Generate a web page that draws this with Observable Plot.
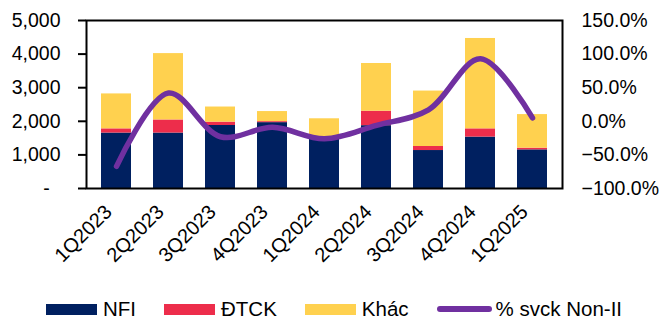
<!DOCTYPE html>
<html>
<head>
<meta charset="utf-8">
<script src="https://cdn.jsdelivr.net/npm/d3@7"></script>
<script src="https://cdn.jsdelivr.net/npm/@observablehq/plot@0.6"></script>
<style>
  html, body { margin: 0; padding: 0; background: #fff; }
  #wrap { position: relative; width: 659px; height: 320px; font-family: "Liberation Sans", Arial, sans-serif; }
  #chart svg { display: block; }
  #legend { position: absolute; left: 46px; top: 298px; height: 22px; display: flex; align-items: center; font-size: 20.5px; color: #000; }
  .item { display: flex; align-items: center; margin-right: 28px; }
  .sw { width: 51px; height: 11px; margin-right: 6px; }
  .ln { width: 55px; height: 6px; border-radius: 3px; margin-right: 4px; }
</style>
</head>
<body>
<div id="wrap">
  <div id="chart"></div>
  <div id="legend"></div>
</div>
<script>
// Quarterly non-interest income by component (bn VND) and YoY growth of non-II (%)
const quarters = ["1Q2023","2Q2023","3Q2023","4Q2023","1Q2024","2Q2024","3Q2024","4Q2024","1Q2025"];
const nfi   = [1650, 1650, 1875, 1960, 1500, 1870, 1130, 1530, 1150];
const dtck  = [125, 390, 100, 30, 10, 430, 120, 245, 50];
const khac  = [1040, 1975, 450, 300, 565, 1420, 1650, 2690, 1000];
const growth = [-67, 42, -23, -9, -26, -6, 17, 93, 5];

const seriesNames = ["NFI", "ĐTCK", "Khác"];
const seriesColors = ["#002060", "#ED2D4B", "#FFD14F"];
const lineName = "% svck Non-II";
const lineColor = "#7030A0";

const leftTicks = [0, 1000, 2000, 3000, 4000, 5000];
const rightTicks = [-100, -50, 0, 50, 100, 150];

// The secondary (percent) axis is mapped onto the primary value scale
const leftDomain = [0, 5000];
const rightDomain = [-100, 150];
const toLeft = p => leftDomain[0] + (p - rightDomain[0]) / (rightDomain[1] - rightDomain[0]) * (leftDomain[1] - leftDomain[0]);
const fromLeft = v => rightDomain[0] + (v - leftDomain[0]) / (leftDomain[1] - leftDomain[0]) * (rightDomain[1] - rightDomain[0]);

const seriesValues = [nfi, dtck, khac];
const rows = quarters.flatMap((q, i) => seriesNames.map((s, k) => ({q, s, v: seriesValues[k][i]})));
const growthRows = quarters.map((q, i) => ({q, g: growth[i]}));

const font = "'Liberation Sans', Arial, sans-serif";

const chart = Plot.plot({
  width: 659,
  height: 292,
  marginLeft: 86,
  marginRight: 97,
  marginTop: 20,
  marginBottom: 104,
  style: {fontFamily: font, fontSize: "19.5px", color: "#000", background: "#fff"},
  x: {domain: quarters, paddingInner: 0.43, paddingOuter: 0.215, label: null},
  y: {domain: leftDomain, label: null},
  color: {domain: seriesNames, range: seriesColors},
  marks: [
    Plot.barY(rows, {x: "q", y: "v", fill: "s", order: seriesNames}),
    Plot.line(growthRows, {
      x: "q", y: d => toLeft(d.g), curve: "catmull-rom",
      stroke: lineColor, strokeWidth: 5.5, strokeLinecap: "round", strokeLinejoin: "round"
    }),
    Plot.frame({stroke: "#000", strokeWidth: 2}),
    Plot.axisY({
      anchor: "left", ticks: leftTicks, tickSize: 8, tickPadding: 18, strokeWidth: 2,
      tickFormat: d => d === 0 ? "-\u00a0\u00a0" : d3.format(",")(d), label: null
    }),
    Plot.axisY({
      anchor: "right", ticks: rightTicks.map(toLeft), tickSize: 0, tickPadding: 19,
      tickFormat: v => d3.format(".1f")(fromLeft(v)) + "%", label: null
    }),
    Plot.axisX({tickSize: 0, tickRotate: -45, tickPadding: 20, dx: -8, fontSize: 20, label: null})
  ]
});
document.getElementById("chart").appendChild(chart);

// Legend below the chart
const legend = document.getElementById("legend");
seriesNames.forEach((name, k) => {
  const item = document.createElement("div");
  item.className = "item";
  const sw = document.createElement("div");
  sw.className = "sw";
  sw.style.background = seriesColors[k];
  const label = document.createElement("span");
  label.textContent = name;
  item.append(sw, label);
  legend.appendChild(item);
});
{
  const item = document.createElement("div");
  item.className = "item";
  const ln = document.createElement("div");
  ln.className = "ln";
  ln.style.background = lineColor;
  const label = document.createElement("span");
  label.textContent = lineName;
  item.append(ln, label);
  legend.appendChild(item);
}
</script>
</body>
</html>
